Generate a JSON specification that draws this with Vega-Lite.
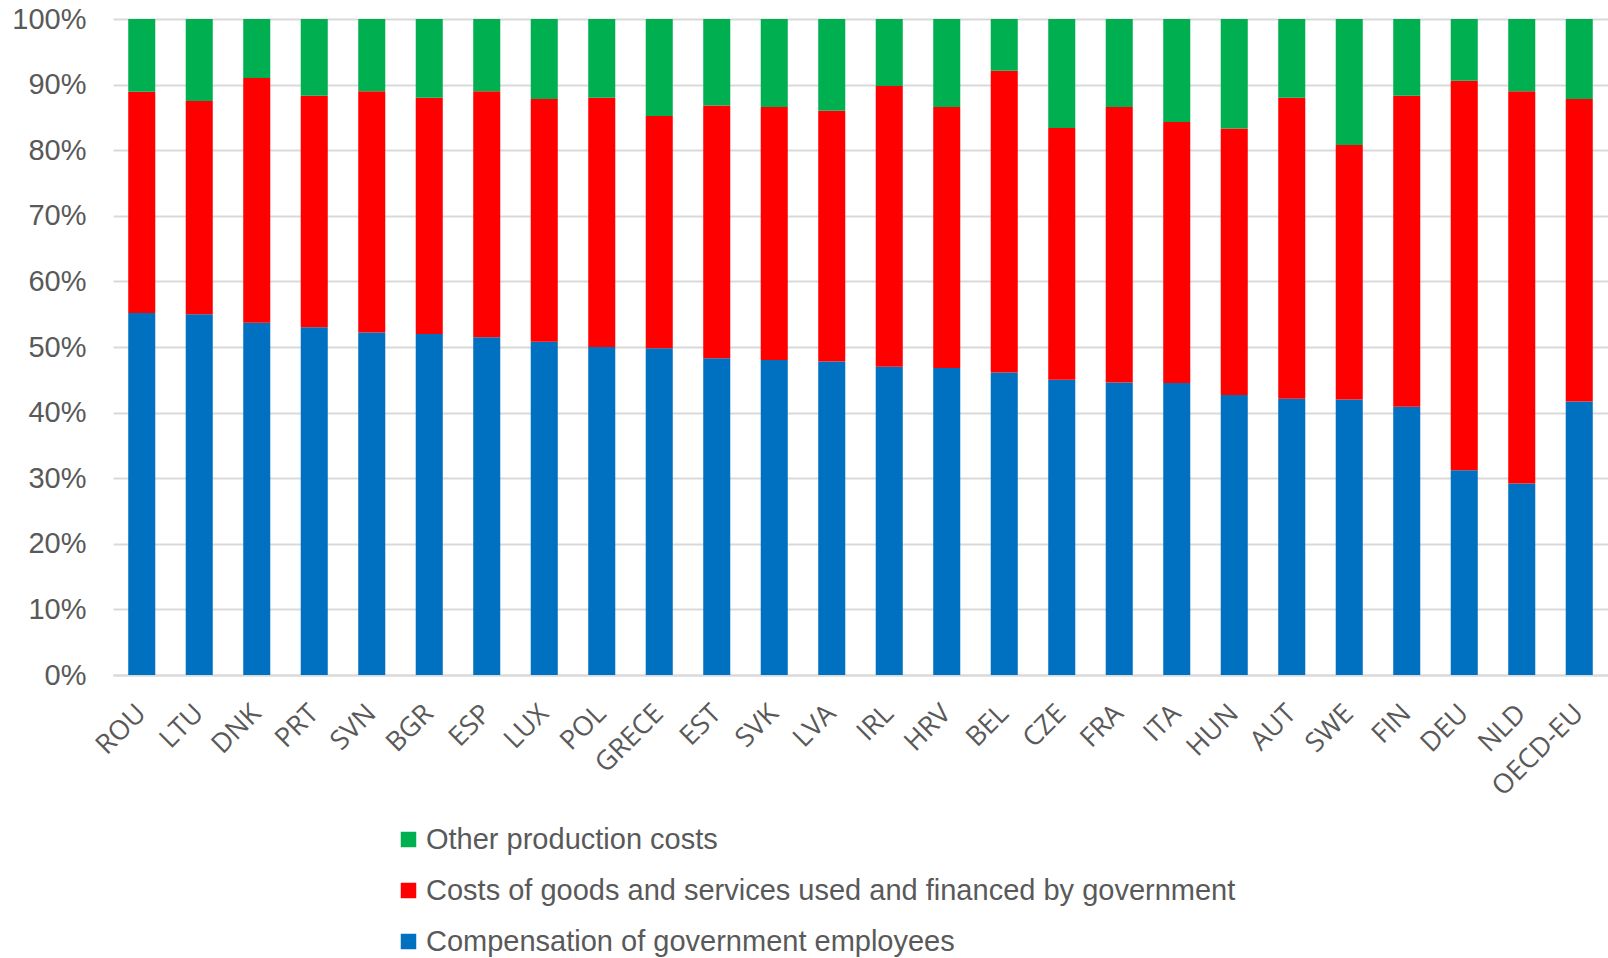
{
  "$schema": "https://vega.github.io/schema/vega-lite/v6.json",
  "width": 1495,
  "height": 656,
  "autosize": "none",
  "padding": {"left": 113, "top": 19, "right": 0, "bottom": 283},
  "background": "white",
  "datasets": {
    "raw": [
      {"country": "ROU", "comp": 55.2, "goods": 33.7, "other": 11.1},
      {"country": "LTU", "comp": 55.0, "goods": 32.5, "other": 12.5},
      {"country": "DNK", "comp": 53.7, "goods": 37.3, "other": 9.0},
      {"country": "PRT", "comp": 53.0, "goods": 35.3, "other": 11.7},
      {"country": "SVN", "comp": 52.2, "goods": 36.8, "other": 11.0},
      {"country": "BGR", "comp": 52.0, "goods": 36.0, "other": 12.0},
      {"country": "ESP", "comp": 51.5, "goods": 37.5, "other": 11.0},
      {"country": "LUX", "comp": 50.8, "goods": 37.0, "other": 12.2},
      {"country": "POL", "comp": 50.0, "goods": 38.0, "other": 12.0},
      {"country": "GRECE", "comp": 49.8, "goods": 35.4, "other": 14.8},
      {"country": "EST", "comp": 48.3, "goods": 38.5, "other": 13.2},
      {"country": "SVK", "comp": 48.0, "goods": 38.6, "other": 13.4},
      {"country": "LVA", "comp": 47.8, "goods": 38.2, "other": 14.0},
      {"country": "IRL", "comp": 47.0, "goods": 42.8, "other": 10.2},
      {"country": "HRV", "comp": 46.8, "goods": 39.8, "other": 13.4},
      {"country": "BEL", "comp": 46.1, "goods": 46.0, "other": 7.9},
      {"country": "CZE", "comp": 45.0, "goods": 38.4, "other": 16.6},
      {"country": "FRA", "comp": 44.6, "goods": 42.0, "other": 13.4},
      {"country": "ITA", "comp": 44.5, "goods": 39.8, "other": 15.7},
      {"country": "HUN", "comp": 42.7, "goods": 40.6, "other": 16.7},
      {"country": "AUT", "comp": 42.1, "goods": 45.9, "other": 12.0},
      {"country": "SWE", "comp": 42.0, "goods": 38.8, "other": 19.2},
      {"country": "FIN", "comp": 40.9, "goods": 47.4, "other": 11.7},
      {"country": "DEU", "comp": 31.2, "goods": 59.4, "other": 9.4},
      {"country": "NLD", "comp": 29.2, "goods": 59.8, "other": 11.0},
      {"country": "OECD-EU", "comp": 41.7, "goods": 46.1, "other": 12.2}
    ]
  },
  "data": {"name": "raw"},
  "transform": [
    {"fold": ["comp", "goods", "other"], "as": ["key", "value"]},
    {"lookup": "key", "from": {"data": {"values": [
      {"key": "comp", "series": "Compensation of government employees"},
      {"key": "goods", "series": "Costs of goods and services used and financed by government"},
      {"key": "other", "series": "Other production costs"}
    ]}, "key": "key", "fields": ["series"]}}
  ],
  "config": {
    "view": {"stroke": null},
    "font": "Liberation Sans"
  },
  "mark": {"type": "bar", "width": {"band": 0.47}},
  "encoding": {
    "x": {
      "field": "country",
      "type": "nominal",
      "sort": null,
      "scale": {"paddingInner": 0, "paddingOuter": 0},
      "axis": {
        "title": null,
        "labelAngle": -45,
        "labelAlign": "right",
        "labelBaseline": "middle",
        "labelFont": "Open Sans",
        "labelFontSize": 27,
        "labelColor": "#595959",
        "labelPadding": 34,
        "ticks": false,
        "domainColor": "#D9D9D9",
        "domainWidth": 2,
        "grid": false
      }
    },
    "y": {
      "field": "value",
      "type": "quantitative",
      "stack": "normalize",
      "scale": {"domain": [0, 1], "nice": false},
      "axis": {
        "title": null,
        "format": ".0%",
        "values": [0, 0.1, 0.2, 0.3, 0.4, 0.5, 0.6, 0.7, 0.8, 0.9, 1],
        "labelFont": "Liberation Sans",
        "labelFontSize": 29,
        "labelColor": "#595959",
        "labelPadding": 27,
        "ticks": false,
        "domain": false,
        "gridColor": "#D9D9D9",
        "gridWidth": 2
      }
    },
    "color": {
      "field": "series",
      "type": "nominal",
      "scale": {
        "domain": ["Other production costs", "Costs of goods and services used and financed by government", "Compensation of government employees"],
        "range": ["#00B050", "#FF0000", "#0070C0"]
      },
      "legend": {
        "title": null,
        "orient": "none",
        "legendX": 281,
        "legendY": 806,
        "direction": "vertical",
        "symbolType": "square",
        "symbolSize": 240,
        "symbolStrokeWidth": 0,
        "labelFont": "Liberation Sans",
        "labelFontSize": 29,
        "labelColor": "#595959",
        "labelOffset": 3,
        "labelLimit": 1300,
        "rowPadding": 21
      }
    },
    "order": {"field": "series", "sort": "ascending"}
  }
}
